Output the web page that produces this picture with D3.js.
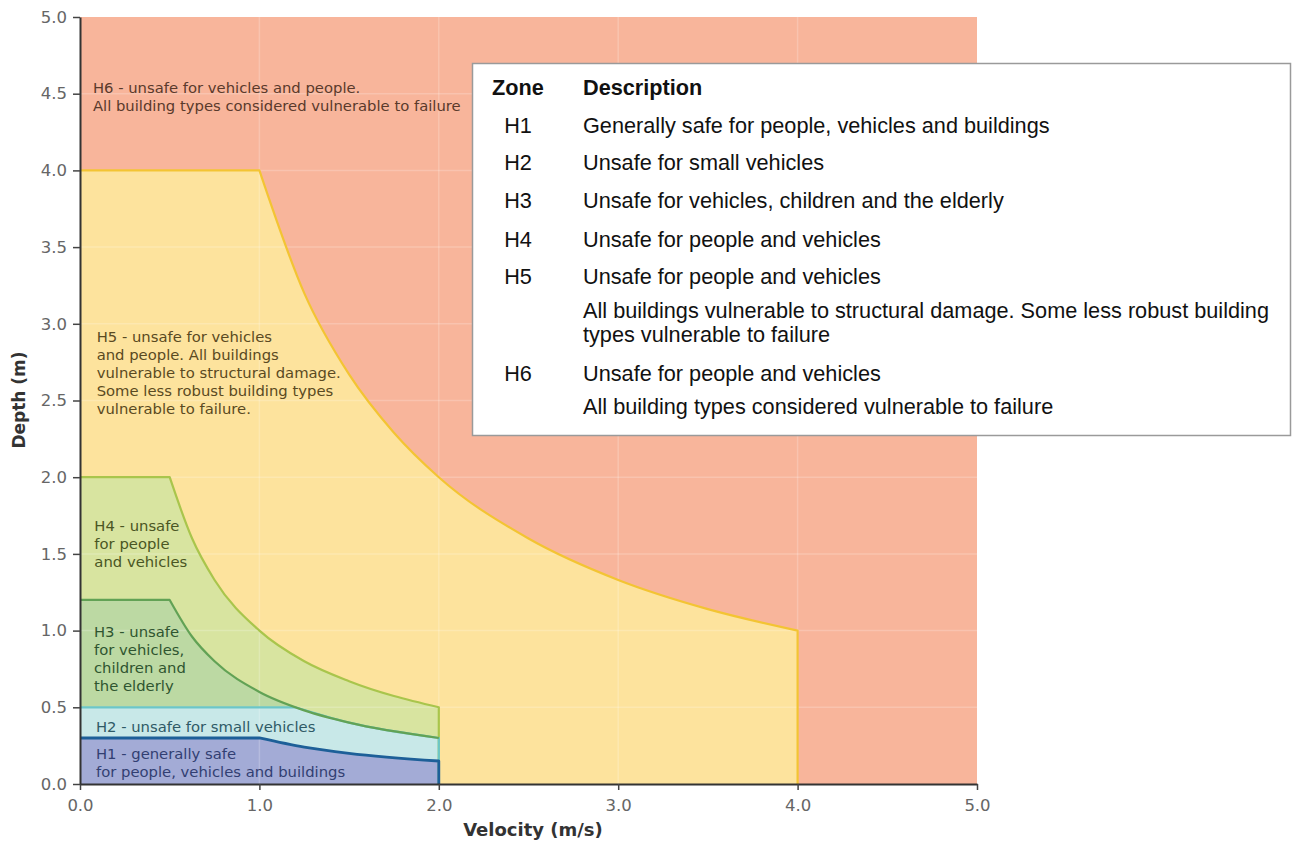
<!DOCTYPE html>
<html>
<head>
<meta charset="utf-8">
<script src="https://cdn.jsdelivr.net/npm/d3@7"></script>
<style>
  html, body { margin: 0; padding: 0; background: #fff; }
  svg { display: block; }
</style>
</head>
<body>
<svg id="chart" width="1292" height="843"></svg>
<script>
// ---------------- DATA ----------------
const xTicks = [0, 1, 2, 3, 4, 5];
const yTicks = [0, 0.5, 1, 1.5, 2, 2.5, 3, 3.5, 4, 4.5, 5];

// Upper boundary of each zone [velocity, depth]; last point then drops to depth 0
const h5Boundary = [[0, 4], [1, 4], [1.25, 3.2], [1.5, 2.67], [1.75, 2.29], [2, 2], [2.5, 1.6], [3, 1.33], [3.5, 1.14], [4, 1]];
const h4Boundary = [[0, 2], [0.5, 2], [0.625, 1.6], [0.75, 1.33], [1, 1], [1.25, 0.8], [1.5, 0.67], [2, 0.5]];
const h3Boundary = [[0, 1.2], [0.5, 1.2], [0.625, 0.96], [0.75, 0.8], [1, 0.6], [1.25, 0.48], [1.5, 0.4], [2, 0.3]];
const h2Boundary = [[0, 0.5], [1.2, 0.5], [1.5, 0.4], [2, 0.3]];
const h1Boundary = [[0, 0.3], [1, 0.3], [1.25, 0.24], [1.5, 0.2], [2, 0.15]];

const zoneNames = ["H5", "H4", "H3", "H2", "H1"];
const zoneFills = ["#fde39d", "#d8e4a0", "#bcd9a3", "#c8e8e8", "#a3abd6"];
const zoneStrokes = ["#f3c433", "#a9c54c", "#62a255", "#6cc6c8", "#1d5f98"];
const h6Fill = "#f8b59b";

const chartLabels = [
  { lines: ["H6 - unsafe for vehicles and people.", "All building types considered vulnerable to failure"], v: 0.072, d: 4.54, color: "#5a3a2c" },
  { lines: ["H5 - unsafe for vehicles", "and people. All buildings", "vulnerable to structural damage.", "Some less robust building types", "vulnerable to failure."], v: 0.093, d: 2.914, color: "#5a4a22" },
  { lines: ["H4 - unsafe", "for people", "and vehicles"], v: 0.08, d: 1.684, color: "#4a5624" },
  { lines: ["H3 - unsafe", "for vehicles,", "children and", "the elderly"], v: 0.078, d: 0.993, color: "#2f5530" },
  { lines: ["H2 - unsafe for small vehicles"], v: 0.089, d: 0.374, color: "#2f5a66" },
  { lines: ["H1 - generally safe", "for people, vehicles and buildings"], v: 0.089, d: 0.2, color: "#323f72" }
];

const legendZones = ["H1", "H2", "H3", "H4", "H5", "H6"];
const legendDescriptions = [
  ["Generally safe for people, vehicles and buildings"],
  ["Unsafe for small vehicles"],
  ["Unsafe for vehicles, children and the elderly"],
  ["Unsafe for people and vehicles"],
  ["Unsafe for people and vehicles", "All buildings vulnerable to structural damage. Some less robust building", "types vulnerable to failure"],
  ["Unsafe for people and vehicles", "All building types considered vulnerable to failure"]
];

// ---------------- LAYOUT ----------------
const svg = d3.select("#chart");
const x = d3.scaleLinear().domain([0, 5]).range([80, 977]);
const y = d3.scaleLinear().domain([0, 5]).range([784, 17]);
const boundaries = [h5Boundary, h4Boundary, h3Boundary, h2Boundary, h1Boundary];
const dropToZero = [true, true, false, true, true];
const chartFont = "DejaVu Sans, Verdana, sans-serif";

const mono = d3.line().x(d => x(d[0])).y(d => y(d[1])).curve(d3.curveMonotoneX);
function topPath(pts) {
  const curve = mono(pts.slice(1));
  return `M${x(pts[0][0])},${y(pts[0][1])}L` + curve.slice(1);
}

// H6 background
svg.append("rect")
  .attr("x", x(0)).attr("y", y(5))
  .attr("width", x(5) - x(0)).attr("height", y(0) - y(5))
  .attr("fill", h6Fill);

// fills
boundaries.forEach((pts, i) => {
  const last = pts[pts.length - 1];
  svg.append("path")
    .attr("d", topPath(pts) + `L${x(last[0])},${y(0)}L${x(0)},${y(0)}Z`)
    .attr("fill", zoneFills[i]);
});

// grid
const grid = svg.append("g").attr("stroke", "#ffffff").attr("stroke-opacity", 0.2).attr("stroke-width", 1.5);
xTicks.slice(1, -1).forEach(t => grid.append("line").attr("x1", x(t)).attr("x2", x(t)).attr("y1", y(0)).attr("y2", y(5)));
yTicks.slice(1, -1).forEach(t => grid.append("line").attr("x1", x(0)).attr("x2", x(5)).attr("y1", y(t)).attr("y2", y(t)));

// strokes
const strokeOrder = [0, 1, 3, 2, 4];
strokeOrder.forEach(i => {
  const pts = boundaries[i];
  const last = pts[pts.length - 1];
  let d = topPath(pts);
  if (dropToZero[i]) d += `L${x(last[0])},${y(0)}`;
  svg.append("path")
    .attr("d", d)
    .attr("fill", "none")
    .attr("stroke", zoneStrokes[i])
    .attr("stroke-width", i === 4 ? 2.8 : 2.2)
    .attr("stroke-linejoin", "round");
});

// chart labels
chartLabels.forEach(lb => {
  const t = svg.append("text")
    .attr("font-family", chartFont)
    .attr("font-size", 14.8)
    .attr("fill", lb.color);
  lb.lines.forEach((ln, k) => {
    t.append("tspan")
      .attr("x", x(lb.v))
      .attr("y", y(lb.d) + k * 18)
      .attr("dy", "0.35em")
      .text(ln);
  });
});

// axes
const xAxis = svg.append("g").attr("transform", `translate(0,${y(0)})`)
  .call(d3.axisBottom(x).tickValues(xTicks).tickFormat(d3.format(".1f")).tickSize(6).tickSizeOuter(0));
const yAxis = svg.append("g").attr("transform", `translate(${x(0)},0)`)
  .call(d3.axisLeft(y).tickValues(yTicks).tickFormat(d3.format(".1f")).tickSize(7).tickSizeOuter(0));
[xAxis, yAxis].forEach(g => {
  g.select(".domain").attr("stroke", "#333").attr("stroke-width", 2);
  g.selectAll(".tick line").attr("stroke", "#444").attr("stroke-width", 1.5);
  g.selectAll(".tick text")
    .attr("font-family", chartFont)
    .attr("font-size", 16.5)
    .attr("fill", "#666");
});
xAxis.selectAll(".tick text").attr("y", 21).attr("dy", "0.35em");
yAxis.selectAll(".tick text").attr("x", -13);

svg.append("text")
  .attr("x", 533).attr("y", 830).attr("dy", "0.35em")
  .attr("text-anchor", "middle")
  .attr("font-family", chartFont)
  .attr("font-size", 18).attr("font-weight", "bold").attr("fill", "#333")
  .text("Velocity (m/s)");
svg.append("text")
  .attr("transform", `translate(19,400) rotate(-90)`)
  .attr("dy", "0.35em")
  .attr("text-anchor", "middle")
  .attr("font-family", chartFont)
  .attr("font-size", 17).attr("font-weight", "bold").attr("fill", "#333")
  .text("Depth (m)");

// legend table
const lg = svg.append("g");
lg.append("rect")
  .attr("x", 472.5).attr("y", 63.5).attr("width", 818).attr("height", 372)
  .attr("fill", "#fff").attr("stroke", "#9a9a9a").attr("stroke-width", 1.5);
const lgFont = "Liberation Sans, Arial, sans-serif";
const zoneCx = 518, descX = 583;
function lgText(xx, yy, str, opts = {}) {
  lg.append("text")
    .attr("transform", `translate(${xx},${yy}) scale(1,1.03)`)
    .attr("text-anchor", opts.anchor || "start")
    .attr("dy", "0.35em")
    .attr("font-family", lgFont)
    .attr("font-size", 21.7)
    .attr("font-weight", opts.bold ? "bold" : "normal")
    .attr("fill", "#111")
    .text(str);
}
lgText(zoneCx, 87, "Zone", { anchor: "middle", bold: true });
lgText(descX, 87, "Description", { bold: true });
const rowY = [125, 162, 200, 239, 276, 373];
const subStep = [0, 34, 58];
legendZones.forEach((z, i) => {
  lgText(zoneCx, rowY[i], z, { anchor: "middle" });
  legendDescriptions[i].forEach((ln, k) => {
    const off = k === 0 ? 0 : (i === 4 ? subStep[k] : 33);
    lgText(descX, rowY[i] + off, ln);
  });
});
</script>
</body>
</html>
